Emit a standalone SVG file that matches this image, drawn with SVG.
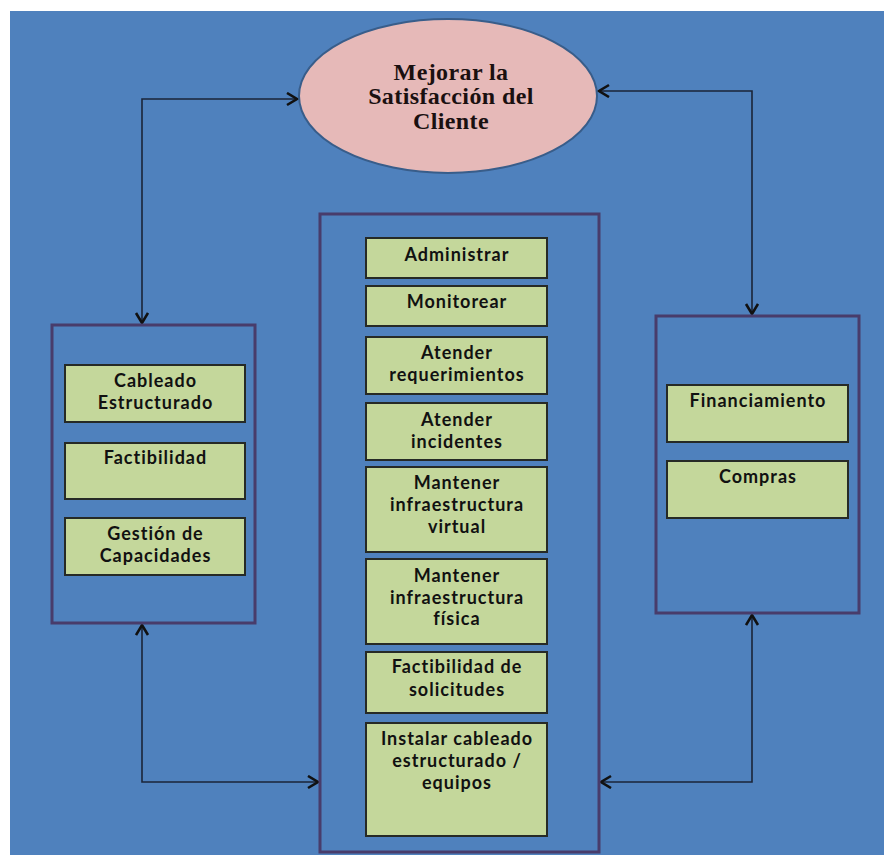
<svg xmlns="http://www.w3.org/2000/svg" width="884" height="855" viewBox="0 0 884 855">
<defs>
<style>
.bg{fill:#4f81bd}
.frame{fill:none;stroke:#483c6b;stroke-width:3}
.box{fill:#c4d79b;stroke:#262a26;stroke-width:2}
.t{font-family:Lato,"Liberation Sans",sans-serif;font-weight:bold;font-size:18px;fill:#111111;text-anchor:middle;letter-spacing:1px}
.title{font-family:"Liberation Serif",serif;font-weight:bold;font-size:24px;fill:#1a1010;text-anchor:middle;letter-spacing:0.4px}
.conn{fill:none;stroke:#1b2538;stroke-width:1.6;marker-start:url(#ah);marker-end:url(#ah)}
</style>
<marker id="ah" markerUnits="userSpaceOnUse" markerWidth="16" markerHeight="16" refX="11" refY="7" orient="auto-start-reverse">
<path d="M1,1 L11,7 L1,13" fill="none" stroke="#111111" stroke-width="2.6"/>
</marker>
</defs>
<rect x="0" y="0" width="884" height="855" fill="#ffffff"/>
<rect class="bg" x="10" y="11" width="874" height="844"/>

<g id="connectors">
<path class="conn" d="M297,99 H142 V323"/>
<path class="conn" d="M599,91 H752 V314"/>
<path class="conn" d="M142,625 V782 H318"/>
<path class="conn" d="M752,615 V782 H601"/>
</g>

<g id="goal">
<ellipse cx="448" cy="96" rx="149" ry="77" fill="#e6b9b8" stroke="#385d8a" stroke-width="2"/>
<text class="title" x="451" y="80">Mejorar la</text>
<text class="title" x="451" y="104">Satisfacción del</text>
<text class="title" x="451" y="129">Cliente</text>
</g>

<g id="left-group">
<rect class="frame" x="52" y="325" width="203" height="298"/>
<g id="cableado">
<rect class="box" x="65" y="365" width="180" height="57"/>
<text class="t" x="155.5" y="387">Cableado</text>
<text class="t" x="155.5" y="409">Estructurado</text>
</g>
<g id="factibilidad">
<rect class="box" x="65" y="443" width="180" height="56"/>
<text class="t" x="155.5" y="464">Factibilidad</text>
</g>
<g id="gestion">
<rect class="box" x="65" y="518" width="180" height="57"/>
<text class="t" x="155.5" y="540">Gestión de</text>
<text class="t" x="155.5" y="562">Capacidades</text>
</g>
</g>

<g id="center-group">
<rect class="frame" x="320" y="214" width="279" height="638"/>
<g id="administrar">
<rect class="box" x="366" y="238" width="181" height="40"/>
<text class="t" x="457" y="261">Administrar</text>
</g>
<g id="monitorear">
<rect class="box" x="366" y="286" width="181" height="40"/>
<text class="t" x="457" y="308">Monitorear</text>
</g>
<g id="requerimientos">
<rect class="box" x="366" y="337" width="181" height="57"/>
<text class="t" x="457" y="359">Atender</text>
<text class="t" x="457" y="381">requerimientos</text>
</g>
<g id="incidentes">
<rect class="box" x="366" y="403" width="181" height="57"/>
<text class="t" x="457" y="426">Atender</text>
<text class="t" x="457" y="448">incidentes</text>
</g>
<g id="virtual">
<rect class="box" x="366" y="467" width="181" height="85"/>
<text class="t" x="457" y="489">Mantener</text>
<text class="t" x="457" y="511">infraestructura</text>
<text class="t" x="457" y="533">virtual</text>
</g>
<g id="fisica">
<rect class="box" x="366" y="559" width="181" height="85"/>
<text class="t" x="457" y="582">Mantener</text>
<text class="t" x="457" y="604">infraestructura</text>
<text class="t" x="457" y="625">física</text>
</g>
<g id="solicitudes">
<rect class="box" x="366" y="652" width="181" height="61"/>
<text class="t" x="457" y="673">Factibilidad de</text>
<text class="t" x="457" y="696">solicitudes</text>
</g>
<g id="instalar">
<rect class="box" x="366" y="723" width="181" height="113"/>
<text class="t" x="457" y="745">Instalar cableado</text>
<text class="t" x="457" y="767">estructurado /</text>
<text class="t" x="457" y="789">equipos</text>
</g>
</g>

<g id="right-group">
<rect class="frame" x="656" y="316" width="203" height="297"/>
<g id="financiamiento">
<rect class="box" x="667" y="385" width="181" height="57"/>
<text class="t" x="758" y="407">Financiamiento</text>
</g>
<g id="compras">
<rect class="box" x="667" y="461" width="181" height="57"/>
<text class="t" x="758" y="483">Compras</text>
</g>
</g>
</svg>
